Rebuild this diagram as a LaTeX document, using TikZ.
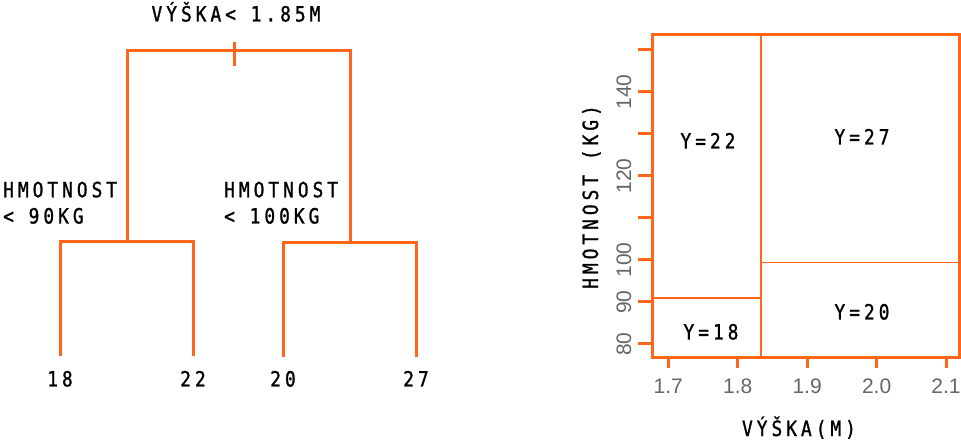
\documentclass[tikz,border=0pt]{standalone}
\usepackage{fontspec}
\newfontfamily\labfont[LetterSpace=19,FakeStretch=0.85,FakeBold=1.2]{DejaVu Sans Mono}
\newfontfamily\tickfont{Liberation Sans}
\definecolor{org}{HTML}{FF6619}
\definecolor{tickgray}{HTML}{666666}
\tikzset{
  treeline/.style={draw=org, line width=3pt},
  boxline/.style={draw=org, line width=3pt},
  splitv/.style={draw=org, line width=2pt},
  splith/.style={draw=org, line width=1.2pt},
  tickline/.style={draw=org, line width=3pt},
  lab/.style={inner sep=0pt, font=\labfont\fontsize{21}{26}\selectfont, text=black},
  ticklab/.style={inner sep=0pt, font=\tickfont\fontsize{21}{24}\selectfont, text=tickgray},
}
\begin{document}
\begin{tikzpicture}[x=1pt,y=-1pt]
\useasboundingbox (0,0) rectangle (961,443);
% ---------------- tree ----------------
\node[lab, anchor=base] (root) at (236,21.5) {VÝŠKA< 1.85M};
\coordinate (rt) at (234,42);
\coordinate (rb) at (234,66);
\coordinate (L) at (127,51);
\coordinate (R) at (350,51);
\coordinate (Lb) at (127,241.5);
\coordinate (Rb) at (350,242.5);
\coordinate (LL) at (60,241.5);
\coordinate (LR) at (193,241.5);
\coordinate (RL) at (283,242.5);
\coordinate (RR) at (416,242.5);
\coordinate (l1) at (60,356);
\coordinate (l2) at (193,356);
\coordinate (l3) at (283,357);
\coordinate (l4) at (416,357);
\draw[treeline] (rt) -- (rb);
\draw[treeline] (Lb) -- (L) -- (R) -- (Rb);
\draw[treeline] (l1) -- (LL) -- (LR) -- (l2);
\draw[treeline] (l3) -- (RL) -- (RR) -- (l4);
\node[lab, anchor=base west] (cl1) at (3,197.3) {HMOTNOST};
\node[lab, anchor=base west] (cl2) at (3,223.5) {< 90KG};
\node[lab, anchor=base west] (cr1) at (224,197.3) {HMOTNOST};
\node[lab, anchor=base west] (cr2) at (224,223.5) {< 100KG};
\node[lab, anchor=base] (n18) at (60,386.5) {18};
\node[lab, anchor=base] (n22) at (193,386.5) {22};
\node[lab, anchor=base] (n20) at (283,386.5) {20};
\node[lab, anchor=base] (n27) at (416,386.5) {27};
% ---------------- partition plot ----------------
\coordinate (bl) at (652.7,358);
\coordinate (tr) at (959,35);
\coordinate (vt) at (760.7,35);
\coordinate (vb) at (760.7,358);
\coordinate (hl1) at (652.7,298);
\coordinate (hl2) at (760.7,298);
\coordinate (hr1) at (760.7,262.3);
\coordinate (hr2) at (959,262.3);
\draw[splitv] (vt) -- (vb);
\draw[splith] (hl1) -- (hl2);
\draw[splith] (hr1) -- (hr2);
\draw[boxline] (bl) rectangle (tr);
% y ticks
\foreach \w in {80,90,...,150} {
  \draw[tickline] (638,{344-(\w-80)*4.2}) -- (652.7,{344-(\w-80)*4.2});
}
\foreach \w in {80,90,100,120,140} {
  \node[ticklab, anchor=base, rotate=90] (yt\w) at (631,{344-(\w-80)*4.2}) {\w};
}
% x ticks
\foreach \h/\t in {0/1.7,1/1.8,2/1.9,3/2.0,4/2.1} {
  \draw[tickline] ({668.3+\h*69.43},358) -- ({668.3+\h*69.43},368.5);
  \node[ticklab, anchor=base] (xt\h) at ({668.3+\h*69.43},393.3) {\t};
}
\node[lab, anchor=base] (xlab) at (799,436) {VÝŠKA(M)};
\node[lab, anchor=base, rotate=90] (ylab) at (598,197) {HMOTNOST (KG)};
\node[lab, anchor=base] (r22) at (708,148.5) {Y=22};
\node[lab, anchor=base] (r27) at (862,144.5) {Y=27};
\node[lab, anchor=base] (r18) at (711,339.5) {Y=18};
\node[lab, anchor=base] (r20) at (862,319.5) {Y=20};
\end{tikzpicture}
\end{document}
